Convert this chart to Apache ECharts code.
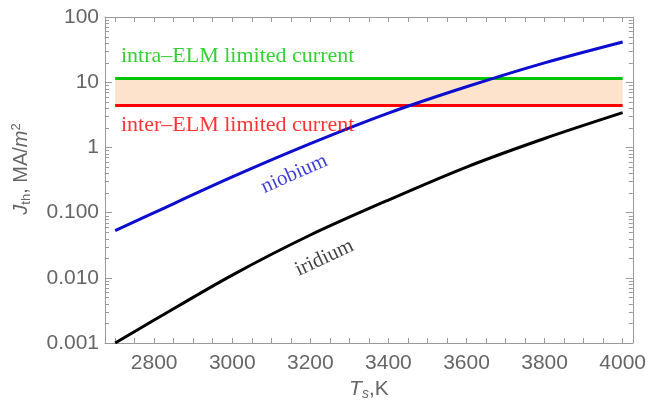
<!DOCTYPE html>
<html>
<head>
<meta charset="utf-8">
<script src="https://cdn.jsdelivr.net/npm/echarts@6/dist/echarts.min.js"></script>
<style>
  html, body { margin: 0; padding: 0; background: #ffffff; }
  #chart { width: 649px; height: 410px; }
</style>
</head>
<body>
<div id="chart"></div>
<script>
// Surface temperature, K
const temperatures = [2700, 2800, 3000, 3200, 3400, 3600, 3800, 4000];
// Thermionic current density, MA/m^2
const niobium = [0.0528, 0.100, 0.352, 1.14, 3.35, 8.5, 19.8, 41.4];
const iridium = [0.001, 0.00225, 0.0110, 0.0453, 0.156, 0.50, 1.37, 3.41];
// Limiting currents, MA/m^2
const intraElmLimit = 11.4;
const interElmLimit = 4.4;
// Axis ticks
const xTickLabels = [2800, 3000, 3200, 3400, 3600, 3800, 4000];
const xMinorTicks = [2700, 2750, 2800, 2850, 2900, 2950, 3000, 3050, 3100, 3150, 3200, 3250,
  3300, 3350, 3400, 3450, 3500, 3550, 3600, 3650, 3700, 3750, 3800, 3850, 3900, 3950, 4000];
const yTickLabels = ['0.001', '0.010', '0.100', '1', '10', '100'];
const yDecades = [0.001, 0.01, 0.1, 1, 10, 100];
const yMinorSteps = [2, 3, 4, 5, 6, 7, 8, 9];

const X_MIN = 2674, X_MAX = 4026;
const AXIS_GREY = '#9a9a9a';
const LABEL_GREY = '#666666';
const SANS = 'Liberation Sans, Arial, sans-serif';
const SERIF = 'Liberation Serif, Times New Roman, serif';

const yMinorTicks = [];
for (let d = 0; d < yDecades.length - 1; d++) {
  yMinorSteps.forEach(s => yMinorTicks.push([X_MIN, yDecades[d] * s]));
}

const pair = (xs, ys) => xs.map((x, i) => [x, ys[i]]);
const tFirst = temperatures[0], tLast = temperatures[temperatures.length - 1];

function yLabel(v) {
  const idx = yDecades.findIndex(d => Math.abs(Math.log10(v) - Math.log10(d)) < 1e-6);
  return idx >= 0 ? yTickLabels[idx] : '';
}

const baseX = {
  type: 'value', min: X_MIN, max: X_MAX,
  axisLine: { show: true, lineStyle: { color: AXIS_GREY, width: 1 } },
  axisTick: { show: true, inside: true, length: 5, customValues: xMinorTicks, lineStyle: { color: AXIS_GREY } },
  splitLine: { show: false }
};
const baseY = {
  type: 'log', logBase: 10, min: 0.001, max: 100,
  axisLine: { show: true, lineStyle: { color: AXIS_GREY, width: 1 } },
  axisTick: { show: true, inside: true, length: 7, lineStyle: { color: AXIS_GREY } },
  splitLine: { show: false }
};

const chart = echarts.init(document.getElementById('chart'), null, { renderer: 'canvas' });
chart.setOption({
  animation: false,
  backgroundColor: '#ffffff',
  grid: { left: 105, right: 16, top: 17, bottom: 67, containLabel: false },
  xAxis: [
    Object.assign({}, baseX, {
      position: 'bottom',
      axisLabel: {
        show: true, customValues: xTickLabels, color: LABEL_GREY, fontSize: 21,
        fontFamily: SANS, margin: 10, formatter: v => String(Math.round(v))
      },
      name: '{i|T}{sub|s}{n|,K}',
      nameLocation: 'middle', nameGap: 32,
      nameTextStyle: {
        color: LABEL_GREY, fontFamily: SANS, fontSize: 21,
        rich: {
          i: { fontStyle: 'italic', fontSize: 21, color: LABEL_GREY, fontFamily: SANS },
          sub: { fontStyle: 'italic', fontSize: 14, color: LABEL_GREY, fontFamily: SANS, padding: [10, 0, 0, 0] },
          n: { fontSize: 21, color: LABEL_GREY, fontFamily: SANS }
        }
      }
    }),
    Object.assign({}, baseX, { position: 'top', axisLabel: { show: false } })
  ],
  yAxis: [
    Object.assign({}, baseY, {
      position: 'left',
      axisLabel: { show: true, color: LABEL_GREY, fontSize: 21, fontFamily: SANS, margin: 6, formatter: yLabel },
      name: '{i|J}{sub|th}{n|, MA/}{i|m}{sup|2}',
      nameLocation: 'middle', nameRotate: 90, nameGap: 72,
      nameTextStyle: {
        color: LABEL_GREY, fontFamily: SANS, fontSize: 20, padding: [0, 0, 0, 22],
        rich: {
          i: { fontStyle: 'italic', fontSize: 20, color: LABEL_GREY, fontFamily: SANS },
          sub: { fontSize: 13, color: LABEL_GREY, fontFamily: SANS, padding: [10, 0, 0, 0] },
          sup: { fontSize: 13, color: LABEL_GREY, fontFamily: SANS, padding: [0, 0, 10, 0] },
          n: { fontSize: 20, color: LABEL_GREY, fontFamily: SANS }
        }
      }
    }),
    Object.assign({}, baseY, { position: 'right', axisLabel: { show: false } })
  ],
  series: [
    {
      name: 'minor log ticks',
      type: 'custom',
      xAxisIndex: 0, yAxisIndex: 0,
      silent: true,
      clip: false,
      data: yMinorTicks,
      renderItem: function (params, api) {
        const v = api.value(1);
        const l = api.coord([X_MIN, v]);
        const r = api.coord([X_MAX, v]);
        const st = { stroke: AXIS_GREY, lineWidth: 1 };
        return {
          type: 'group',
          children: [
            { type: 'line', shape: { x1: l[0], y1: Math.round(l[1]) + 0.5, x2: l[0] + 4, y2: Math.round(l[1]) + 0.5 }, style: st },
            { type: 'line', shape: { x1: r[0], y1: Math.round(r[1]) + 0.5, x2: r[0] - 4, y2: Math.round(r[1]) + 0.5 }, style: st }
          ]
        };
      },
      z: 1
    },
    {
      name: 'inter-ELM limited current',
      type: 'line',
      data: [[tFirst, interElmLimit], [tLast, interElmLimit]],
      showSymbol: false,
      lineStyle: { color: '#ff0000', width: 3 },
      markArea: {
        silent: true,
        itemStyle: { color: '#fde3cc' },
        data: [[{ coord: [tFirst, interElmLimit] }, { coord: [tLast, intraElmLimit] }]]
      },
      z: 3
    },
    {
      name: 'intra-ELM limited current',
      type: 'line',
      data: [[tFirst, intraElmLimit], [tLast, intraElmLimit]],
      showSymbol: false,
      lineStyle: { color: '#00c400', width: 3 },
      z: 3
    },
    {
      name: 'niobium',
      type: 'line',
      data: pair(temperatures, niobium),
      smooth: 0.3,
      showSymbol: false,
      lineStyle: { color: '#0d0dcf', width: 3 },
      z: 4
    },
    {
      name: 'iridium',
      type: 'line',
      data: pair(temperatures, iridium),
      smooth: 0.3,
      showSymbol: false,
      lineStyle: { color: '#000000', width: 3 },
      z: 4
    },
    {
      name: 'annotations',
      type: 'scatter',
      symbolSize: 0,
      silent: true,
      z: 5,
      label: { show: true, position: 'inside', fontFamily: SERIF, fontSize: 22, formatter: p => p.data.text },
      data: [
        { value: [2715, 25.2], text: 'intra–ELM limited current', label: { color: '#00c400', align: 'left' } },
        { value: [2715, 2.21], text: 'inter–ELM limited current', label: { color: '#ff0000', align: 'left' } },
        { value: [3159, 0.391], text: 'niobium', label: { color: '#0d0dcf', rotate: 24, fontSize: 21 } },
        { value: [3236, 0.0201], text: 'iridium', label: { color: '#111111', rotate: 25, fontSize: 21 } }
      ]
    }
  ]
});
</script>
</body>
</html>
